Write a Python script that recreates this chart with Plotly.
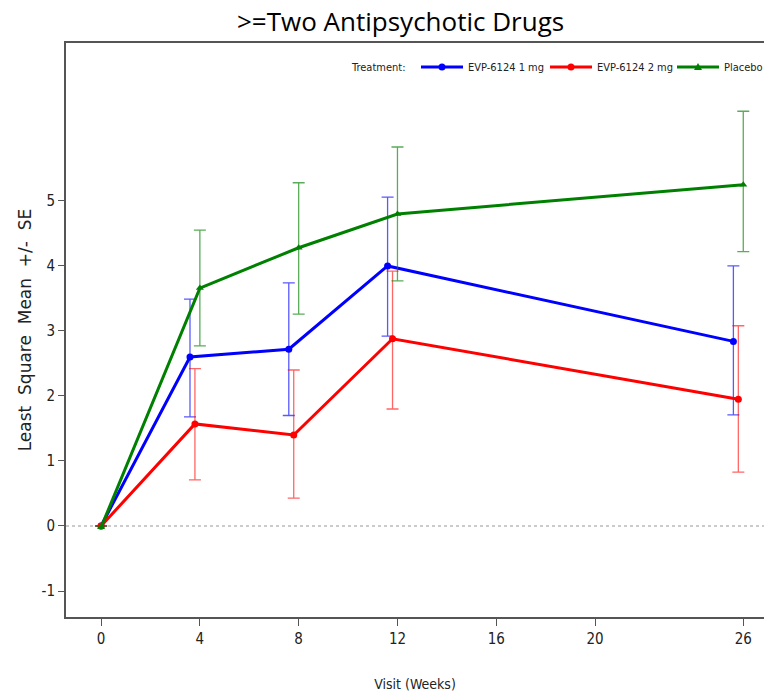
import plotly.graph_objects as go

# ---- data ----
visits = [0, 4, 8, 12, 26]
x_ticks = [0, 4, 8, 12, 16, 20, 26]
y_ticks = [-1, 0, 1, 2, 3, 4, 5]
y_tick_labels = ["-1", "0", "1", "2", "3", "4", "5"]

treatments = ["EVP-6124 1 mg", "EVP-6124 2 mg", "Placebo"]

mean_1mg = [0.0, 2.60, 2.72, 4.00, 2.84]
upper_1mg = [0.0, 3.49, 3.74, 5.06, 4.00]
lower_1mg = [0.0, 1.68, 1.70, 2.92, 1.71]

mean_2mg = [0.0, 1.57, 1.40, 2.88, 1.95]
upper_2mg = [0.0, 2.42, 2.40, 3.92, 3.08]
lower_2mg = [0.0, 0.71, 0.43, 1.80, 0.83]

mean_pbo = [-0.02, 3.66, 4.28, 4.80, 5.25]
upper_pbo = [0.0, 4.55, 5.28, 5.83, 6.38]
lower_pbo = [0.0, 2.77, 3.26, 3.77, 4.22]

# ---- style ----
colors = ["#0000ff", "#ff0000", "#008000"]
err_colors = ["rgba(0,0,255,0.65)", "rgba(255,0,0,0.6)", "rgba(0,128,0,0.65)"]
symbols = ["circle", "circle", "triangle-up"]
dodge = [-0.4, -0.2, 0.0]

series = [
    (mean_1mg, upper_1mg, lower_1mg),
    (mean_2mg, upper_2mg, lower_2mg),
    (mean_pbo, upper_pbo, lower_pbo),
]

W, H = 764, 696
ML, MR, MT, MB = 66, 0, 43, 696 - 617
narrow = "DejaVu Sans Condensed, Liberation Sans Narrow, Arial Narrow, sans-serif"

fig = go.Figure()
for i, (name, (m, up, lo)) in enumerate(zip(treatments, series)):
    xs = [v + (dodge[i] if v > 0 else 0) for v in visits]
    fig.add_trace(go.Scatter(
        x=xs, y=m, name=name, mode="lines+markers",
        line=dict(color=colors[i], width=3),
        marker=dict(color=colors[i], symbol=symbols[i], size=7),
        error_y=dict(type="data", symmetric=False,
                     array=[u - a for u, a in zip(up, m)],
                     arrayminus=[a - l for a, l in zip(m, lo)],
                     color=err_colors[i], thickness=1.3, width=6),
        showlegend=False,
    ))

# zero reference line
fig.add_shape(type="line", xref="paper", yref="y", x0=0, x1=1, y0=0, y1=0,
              line=dict(color="#bbbbbb", width=1.5, dash="dot"), layer="below")

# ---- manual legend (paper coords relative to plot area; page pixels in) ----
pw = W - ML - MR
ph = H - MT - MB
def px(x):
    return (x - ML) / pw
def py(y):
    return (H - MB - y) / ph

leg_y = 67
leg_font = dict(family=narrow, size=11, color="#222")
fig.add_annotation(x=px(408), y=py(leg_y), xref="paper", yref="paper",
                   text="Treatment:", showarrow=False, xanchor="right", yanchor="middle",
                   font=leg_font)
leg_items = [(421, 463), (550, 592), (677, 719)]
for i, (a, b) in enumerate(leg_items):
    fig.add_shape(type="line", xref="paper", yref="paper", x0=px(a), x1=px(b),
                  y0=py(leg_y), y1=py(leg_y), line=dict(color=colors[i], width=3))
    c = (a + b) / 2
    if symbols[i] == "circle":
        fig.add_shape(type="circle", xref="paper", yref="paper",
                      x0=px(c - 3.5), x1=px(c + 3.5), y0=py(leg_y + 3.5), y1=py(leg_y - 3.5),
                      fillcolor=colors[i], line=dict(color=colors[i], width=0))
    else:
        fig.add_shape(type="path", xref="paper", yref="paper",
                      path=f"M {px(c-4)} {py(leg_y+3)} L {px(c+4)} {py(leg_y+3)} L {px(c)} {py(leg_y-4)} Z",
                      fillcolor=colors[i], line=dict(color=colors[i], width=0))
    fig.add_annotation(x=px(b + 3), y=py(leg_y), xref="paper", yref="paper",
                       text=treatments[i], showarrow=False, xanchor="left", yanchor="middle",
                       font=leg_font)

# title placed in page pixels
fig.add_annotation(x=px(400), y=py(21), xref="paper", yref="paper",
                   text=">=Two Antipsychotic Drugs", showarrow=False,
                   xanchor="center", yanchor="middle",
                   font=dict(family="Open Sans, Noto Sans, sans-serif", size=26, color="black"))

fig.update_layout(
    width=W, height=H,
    margin=dict(l=ML, r=MR, t=MT, b=MB),
    paper_bgcolor="white", plot_bgcolor="white",
    xaxis=dict(range=[-1.42, -1.42 + pw / 24.7], tickvals=x_ticks, showgrid=False, zeroline=False,
               showline=True, linecolor="#555", linewidth=2, mirror=True,
               ticks="outside", ticklen=7, tickcolor="#555", tickwidth=1,
               tickfont=dict(family=narrow, size=15, color="#222"),
               title=dict(text="Visit (Weeks)", standoff=32,
                          font=dict(family=narrow, size=14, color="#222"))),
    yaxis=dict(range=[-1.4, 7.43], tickvals=y_ticks, ticktext=y_tick_labels,
               showgrid=False, zeroline=False,
               showline=True, linecolor="#555", linewidth=2,
               ticks="outside", ticklen=6, tickcolor="#555", tickwidth=1,
               tickfont=dict(family=narrow, size=15, color="#222"),
               title=dict(text="Least  Square  Mean  +/-  SE", standoff=6,
                          font=dict(family="DejaVu Sans, Liberation Sans, sans-serif", size=17, color="#222"))),
)

fig.write_html("out.html", config={"displayModeBar": False},
               post_script="document.body.style.margin='0';")
